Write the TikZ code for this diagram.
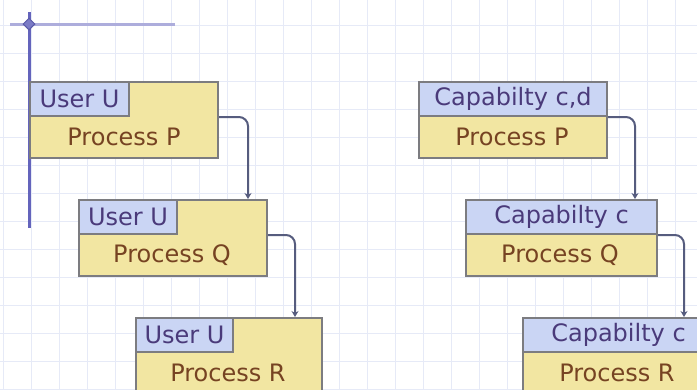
\documentclass[tikz,border=0pt]{standalone}
\usepackage{fontspec}
\setmainfont{DejaVu Sans}
\usetikzlibrary{arrows.meta,calc,shapes.geometric}
\definecolor{gridc}{HTML}{E6EAF7}
\definecolor{procfill}{HTML}{F2E6A2}
\definecolor{tagfill}{HTML}{CAD5F4}
\definecolor{edgec}{HTML}{7C7C80}
\definecolor{tagtext}{HTML}{4A3A7A}
\definecolor{proctext}{HTML}{764322}
\definecolor{connc}{HTML}{565C7E}
\definecolor{axisv}{HTML}{6464BC}
\definecolor{axish}{HTML}{ADADDC}
\tikzset{
  procbox/.style={draw=edgec, fill=procfill, line width=2pt, minimum width=188pt,
    minimum height=76pt, inner sep=0pt, anchor=north west},
  tagbox/.style={draw=edgec, fill=tagfill, line width=2pt, minimum height=34pt,
    inner sep=0pt, anchor=north west, text=tagtext, font=\fontsize{24}{26}\selectfont},
  proclabel/.style={text=proctext, inner sep=0pt, font=\fontsize{24}{26}\selectfont},
  conn/.style={draw=connc, line width=2pt, rounded corners=9pt,
    -{Stealth[length=6pt,width=7pt]}},
}
\begin{document}
\begin{tikzpicture}[x=1pt,y=-1pt]
\useasboundingbox (0,0) rectangle (697,389);
\fill[white] (0,0) rectangle (697,389);
% background grid
\foreach \gx in {3,31,...,697} \draw[gridc, line width=1pt] (\gx,0) -- (\gx,389);
\foreach \gy in {-3,25,...,389} \draw[gridc, line width=1pt] (0,\gy) -- (697,\gy);

% axis with origin marker
\coordinate (ax0) at (29,24);
\coordinate (axr) at (175,24);
\coordinate (axl) at (10,24);
\coordinate (axt) at (29,12);
\coordinate (axb) at (29,228);
\draw[axish, line width=3pt] (axl) -- (axr);
\draw[axisv, line width=3pt] (axt) -- (axb);
\node[diamond, fill=axisv!85, draw=axisv!90!black, line width=1pt, inner sep=0pt, minimum size=12pt] (orig) at (ax0) {};

% left chain: user tags
\node[procbox] (lP) at (29,81) {};
\node[tagbox, minimum width=99pt] (lPt) at (lP.north west) {User U};
\node[proclabel] (lPl) at (124,137) {Process P};

\node[procbox] (lQ) at (78,199) {};
\node[tagbox, minimum width=98pt] (lQt) at (lQ.north west) {User U};
\node[proclabel] (lQl) at (172,255) {Process Q};

\node[procbox, minimum width=186pt] (lR) at (135,317) {};
\node[tagbox, minimum width=97pt] (lRt) at (lR.north west) {User U};
\node[proclabel] (lRl) at (228,373) {Process R};

% right chain: capability headers
\node[procbox] (rP) at (418,81) {};
\node[tagbox, minimum width=188pt] (rPt) at (rP.north west) {Capabilty c,d};
\node[proclabel] (rPl) at (512,137) {Process P};

\node[procbox, minimum width=191pt] (rQ) at (465,199) {};
\node[tagbox, minimum width=191pt] (rQt) at (rQ.north west) {Capabilty c};
\node[proclabel] (rQl) at (560,255) {Process Q};

\node[procbox, minimum width=191pt] (rR) at (522,317) {};
\node[tagbox, minimum width=191pt] (rRt) at (rR.north west) {Capabilty c};
\node[proclabel] (rRl) at (617,373) {Process R};

% connectors
\draw[conn] (lPt.south -| lP.east) -| ([xshift=29pt]lP.east |- lQ.north);
\draw[conn] (lQt.south -| lQ.east) -| ([xshift=27pt]lQ.east |- lR.north);
\draw[conn] (rPt.south east) -| ([xshift=27pt]rP.east |- rQ.north);
\draw[conn] (rQt.south east) -| ([xshift=26pt]rQ.east |- rR.north);
\end{tikzpicture}
\end{document}
